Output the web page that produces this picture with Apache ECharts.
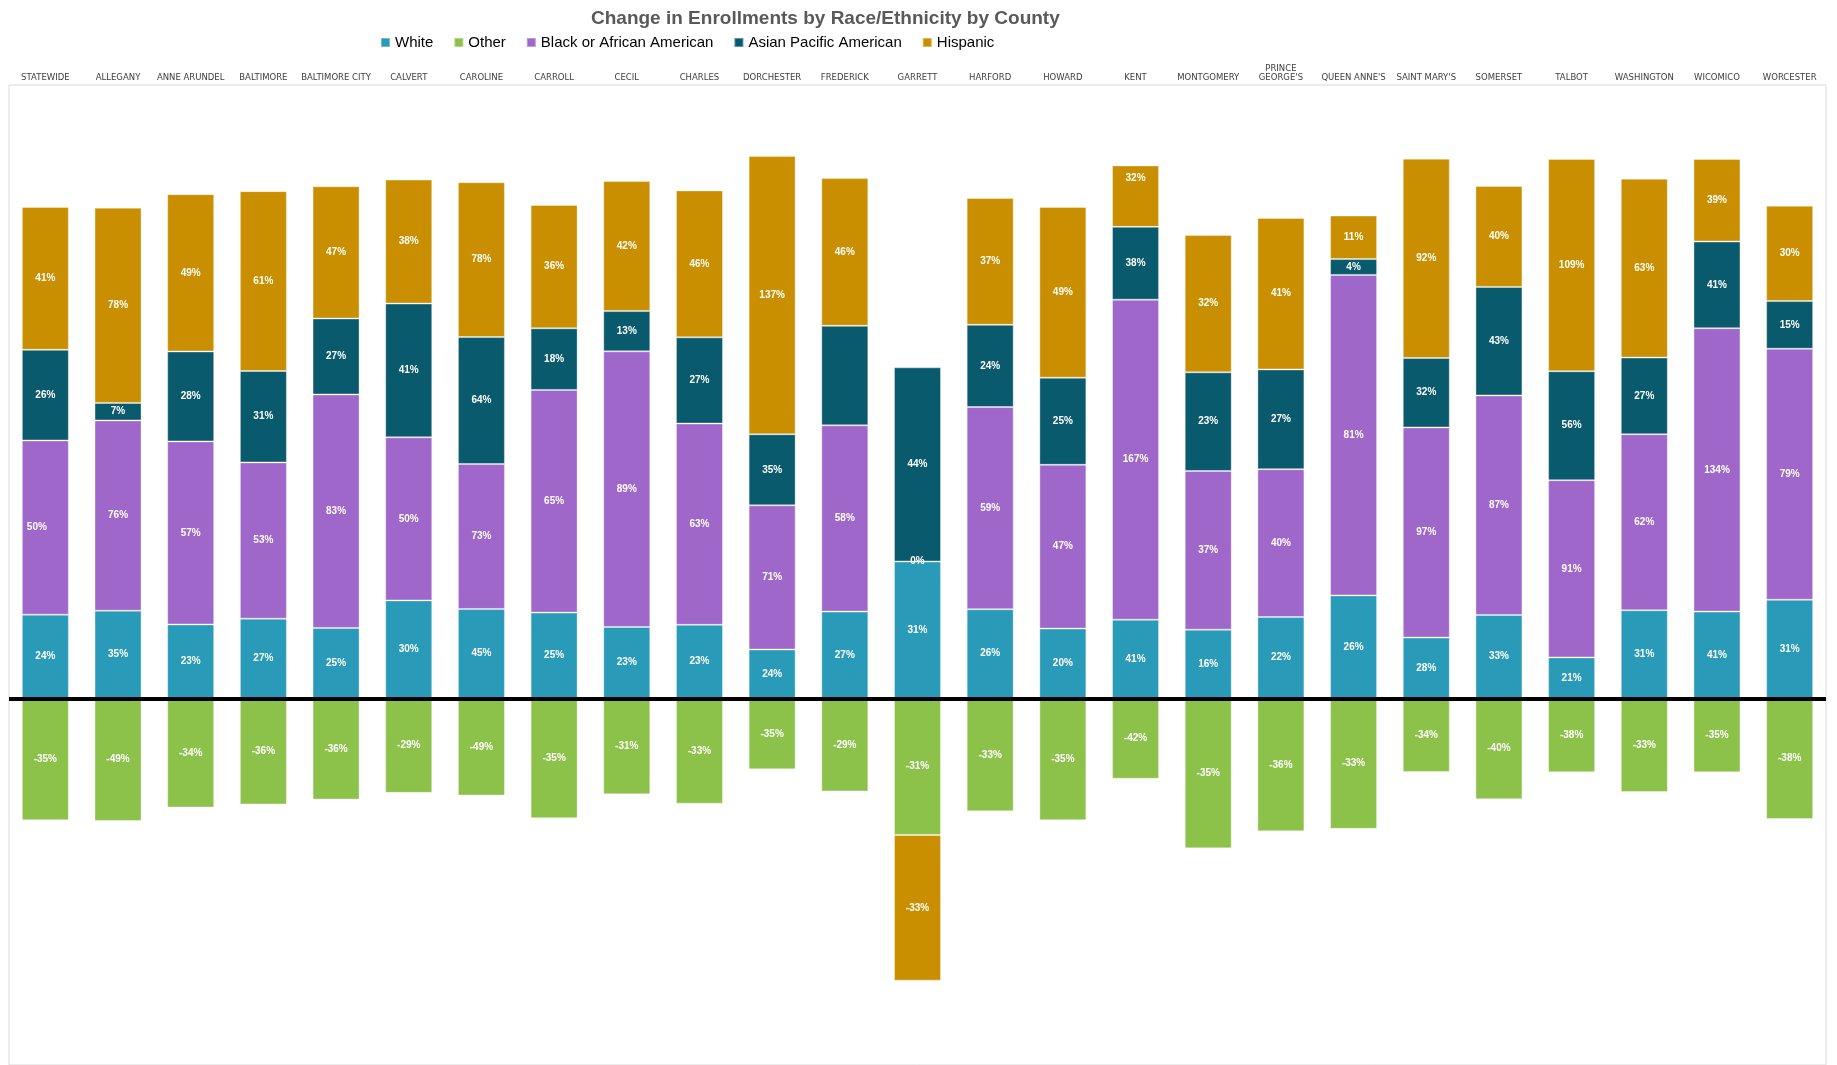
<!DOCTYPE html>
<html>
<head>
<meta charset="utf-8">
<script src="https://cdn.jsdelivr.net/npm/echarts@6/dist/echarts.min.js"></script>
<style>
html,body{margin:0;padding:0;background:#fff;}
#chart{width:1837px;height:1065px;}
</style>
</head>
<body>
<div id="chart"></div>
<script>
// ---- Data (percent change in enrollments) ----
const categories = ["STATEWIDE","ALLEGANY","ANNE ARUNDEL","BALTIMORE","BALTIMORE CITY","CALVERT","CAROLINE","CARROLL","CECIL","CHARLES","DORCHESTER","FREDERICK","GARRETT","HARFORD","HOWARD","KENT","MONTGOMERY","PRINCE\nGEORGE'S","QUEEN ANNE'S","SAINT MARY'S","SOMERSET","TALBOT","WASHINGTON","WICOMICO","WORCESTER"];
const white    = [24,35,23,27,25,30,45,25,23,23,24,27,31,26,20,41,16,22,26,28,33,21,31,41,31];
const other    = [-35,-49,-34,-36,-36,-29,-49,-35,-31,-33,-35,-29,-31,-33,-35,-42,-35,-36,-33,-34,-40,-38,-33,-35,-38];
const black    = [50,76,57,53,83,50,73,65,89,63,71,58,0,59,47,167,37,40,81,97,87,91,62,134,79];
const asian    = [26,7,28,31,27,41,64,18,13,27,35,31,44,24,25,38,23,27,4,32,43,56,27,41,15];
const hispanic = [41,78,49,61,47,38,78,36,42,46,137,46,-33,37,49,32,32,41,11,92,40,109,63,39,30];

const seriesNames = ["White","Other","Black or African American","Asian Pacific American","Hispanic"];
const colors = {
  "White":"#2A9AB9",
  "Other":"#8CC24A",
  "Black or African American":"#A067CB",
  "Asian Pacific American":"#0A5A6E",
  "Hispanic":"#CA8F00"
};

// each county bar shows the shares of the summed absolute changes (100% stacked)
const totals = categories.map((_, i) =>
  Math.abs(white[i]) + Math.abs(other[i]) + Math.abs(black[i]) + Math.abs(asian[i]) + Math.abs(hispanic[i]));

function items(arr, name) {
  return arr.map((v, i) => {
    const it = { value: v / totals[i] * 100, pct: v };
    if (name === "Asian Pacific American" && i === 11) it.label = { show: false };
    if (name === "Black or African American" && i === 0) it.label = { position: "insideLeft" };
    if (name === "Hispanic" && i === 15) it.label = { offset: [0, -18] };
    return it;
  });
}

const chart = echarts.init(document.getElementById('chart'), null, {renderer: 'canvas'});

const dataByName = {
  "White": white, "Other": other, "Black or African American": black,
  "Asian Pacific American": asian, "Hispanic": hispanic
};
// stacking order: white, black, other (negative), asian, hispanic
const stackOrder = ["White","Black or African American","Other","Asian Pacific American","Hispanic"];

const series = stackOrder.map(name => {
  const s = {
    name: name,
    type: 'bar',
    stack: 'all',
    barWidth: 47,
    data: items(dataByName[name], name),
    itemStyle: { color: colors[name], borderColor: 'rgba(255,255,255,0.35)', borderWidth: 1 },
    label: {
      show: true,
      position: 'inside',
      color: '#fff',
      fontFamily: 'Liberation Sans, Arial, sans-serif',
      fontWeight: 'bold',
      fontSize: 10,
      formatter: p => p.data.pct + '%'
    },
    emphasis: { disabled: true }
  };
  if (name === "Hispanic") {
    s.markLine = {
      silent: true,
      symbol: ['none','none'],
      label: { show: false },
      lineStyle: { color: '#000', width: 4, type: 'solid' },
      data: [{ yAxis: 0 }]
    };
  }
  return s;
});

chart.setOption({
  animation: false,
  backgroundColor: '#fff',
  title: {
    text: 'Change in Enrollments by Race/Ethnicity by County',
    left: 586,
    top: 4,
    textStyle: { fontFamily: 'Liberation Sans, Arial, sans-serif', fontSize: 19, fontWeight: 'bold', color: '#595959' }
  },
  legend: {
    data: seriesNames,
    left: 375,
    top: 30,
    itemWidth: 9,
    itemHeight: 9,
    itemGap: 20,
    icon: 'rect',
    textStyle: { fontFamily: 'Liberation Sans, Arial, sans-serif', fontSize: 15, color: '#000' }
  },
  grid: {
    left: 9, top: 85, width: 1817, height: 982,
    show: true, borderColor: '#d9d9d9', borderWidth: 1,
    containLabel: false
  },
  xAxis: {
    type: 'category',
    position: 'top',
    data: categories,
    axisLine: { show: false },
    axisTick: { show: false },
    axisLabel: {
      interval: 0,
      margin: 3,
      fontFamily: 'DejaVu Sans, sans-serif',
      fontSize: 8.5,
      color: '#404040',
      lineHeight: 9
    }
  },
  yAxis: {
    type: 'value',
    min: -59.8,
    max: 100,
    show: false,
    splitLine: { show: false }
  },
  series: series
});
</script>
</body>
</html>
